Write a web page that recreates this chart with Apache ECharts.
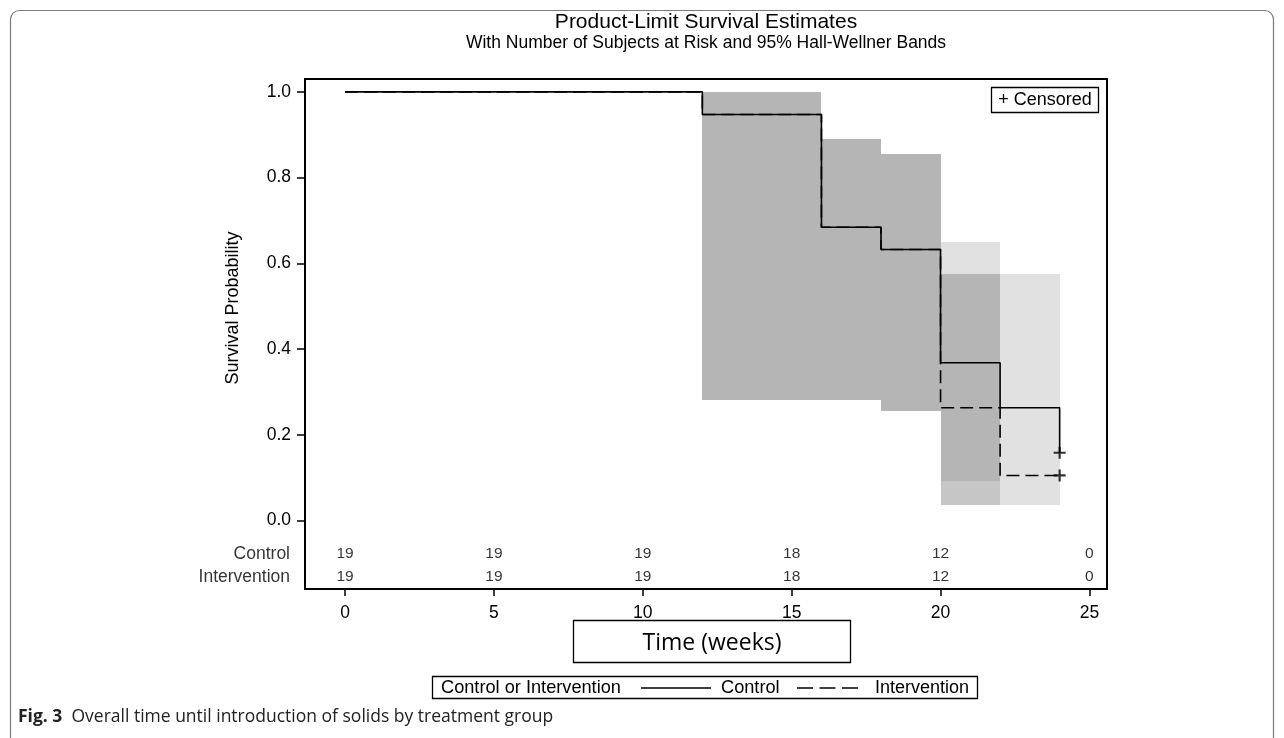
<!DOCTYPE html>
<html><head><meta charset="utf-8">
<script src="https://cdn.jsdelivr.net/npm/echarts@6/dist/echarts.min.js"></script>
<style>html,body{margin:0;padding:0;background:#fff}#c{width:1284px;height:738px}</style>
</head><body><div id="c"></div>
<script>
// ---- data ----
const timesControl = [0, 12, 16, 18, 20, 22, 24];
const survControl = [1, 0.947, 0.684, 0.632, 0.368, 0.263, 0.158];
const timesIntervention = [0, 12, 16, 18, 20, 22, 24];
const survIntervention = [1, 0.947, 0.684, 0.632, 0.263, 0.105, 0.105];
const censorControl = [[24, 0.158]];
const censorIntervention = [[24, 0.105]];
// [start, end, lower, upper]
const bandControl = [[12, 16, 0.28, 1.0], [16, 18, 0.28, 0.891], [18, 20, 0.256, 0.854], [20, 22, 0.093, 0.649], [22, 24, 0.035, 0.575]];
const bandIntervention = [[12, 16, 0.28, 1.0], [16, 18, 0.28, 0.891], [18, 20, 0.256, 0.854], [20, 22, 0.035, 0.575]];
const riskTimes = [0, 5, 10, 15, 20, 25];
const riskControl = [19, 19, 19, 18, 12, 0];
const riskIntervention = [19, 19, 19, 18, 12, 0];
const xTicks = [0, 5, 10, 15, 20, 25];
const yTicks = [0, 0.2, 0.4, 0.6, 0.8, 1.0];
const groupNames = ['Control', 'Intervention'];

// ---- layout constants ----
const X_MIN = -1.344, X_MAX = 25.59, Y_MIN = -0.16, Y_MAX = 1.03;
const ROW_Y = [-0.078, -0.132];
const FONT = '"Liberation Sans", Arial, sans-serif';
const CAP_FONT = '"Open Sans", "Noto Sans", sans-serif';

// band rects: 0 = control only, 1 = intervention only, 2 = overlap
const bandRects = [];
bandControl.forEach(b => bandRects.push([b[0], b[1], b[2], b[3], 0]));
bandIntervention.forEach(b => bandRects.push([b[0], b[1], b[2], b[3], 1]));
bandControl.forEach(b => {
  bandIntervention.forEach(c => {
    if (c[0] === b[0] && c[1] === b[1]) {
      const lo = Math.max(b[2], c[2]), hi = Math.min(b[3], c[3]);
      if (hi > lo) bandRects.push([b[0], b[1], lo, hi, 2]);
    }
  });
});
const bandColors = ['#e1e1e1', '#c6c6c6', '#b5b5b5'];

const plusPath = 'path://M0,4.1H10V5.9H0Z M4.1,0H5.9V10H4.1Z';

const chart = echarts.init(document.getElementById('c'), null, {renderer: 'canvas'});
const option = {
  animation: false,
  backgroundColor: '#fff',
  grid: {left: 305, right: 177, top: 79, bottom: 149, show: true, borderColor: '#000', borderWidth: 2, backgroundColor: 'transparent'},
  xAxis: {
    type: 'value', min: X_MIN, max: X_MAX,
    axisLine: {show: true, onZero: false, lineStyle: {color: '#000', width: 2}},
    axisTick: {show: true, length: 7, lineStyle: {color: '#000', width: 1.5}, customValues: xTicks},
    axisLabel: {customValues: xTicks, margin: 15, fontSize: 17.5, color: '#000', fontFamily: FONT},
    splitLine: {show: false}
  },
  yAxis: {
    type: 'value', min: Y_MIN, max: Y_MAX,
    axisLine: {show: true, onZero: false, lineStyle: {color: '#000', width: 2}},
    axisTick: {show: true, length: 8, lineStyle: {color: '#000', width: 1.5}, customValues: yTicks},
    axisLabel: {customValues: yTicks, margin: 14, fontSize: 17.5, color: '#000', fontFamily: FONT, formatter: v => v.toFixed(1)},
    splitLine: {show: false}
  },
  series: [
    {
      type: 'custom', name: 'bands', silent: true, z: 1,
      data: bandRects,
      renderItem: (params, api) => {
        const p0 = api.coord([api.value(0), api.value(3)]);
        const p1 = api.coord([api.value(1), api.value(2)]);
        const x0 = Math.round(p0[0]), x1 = Math.round(p1[0]);
        const y0 = Math.round(p0[1]), y1 = Math.round(p1[1]);
        return {type: 'rect', shape: {x: x0, y: y0, width: x1 - x0, height: y1 - y0},
          style: {fill: bandColors[api.value(4)]}};
      }
    },
    {
      type: 'line', name: groupNames[1], step: 'end', symbol: 'none', z: 3,
      data: timesIntervention.map((t, i) => [t, survIntervention[i]]),
      lineStyle: {color: '#000', width: 1.6, type: [13, 6]}
    },
    {
      type: 'line', name: groupNames[0], step: 'end', symbol: 'none', z: 4,
      data: timesControl.map((t, i) => [t, survControl[i]]),
      lineStyle: {color: '#000', width: 1.6, type: 'solid'}
    },
    {
      type: 'scatter', name: 'censored', z: 5, symbol: plusPath, symbolSize: 12,
      itemStyle: {color: '#000'},
      data: censorControl.concat(censorIntervention)
    },
    {
      type: 'scatter', name: 'riskC', z: 5, symbolSize: 0, clip: false, silent: true,
      data: riskTimes.map((t, i) => [t, ROW_Y[0], riskControl[i]]),
      label: {show: true, position: 'inside', formatter: p => String(p.data[2]), fontSize: 15.5, color: '#000', fontFamily: FONT}
    },
    {
      type: 'scatter', name: 'riskI', z: 5, symbolSize: 0, clip: false, silent: true,
      data: riskTimes.map((t, i) => [t, ROW_Y[1], riskIntervention[i]]),
      label: {show: true, position: 'inside', formatter: p => String(p.data[2]), fontSize: 15.5, color: '#000', fontFamily: FONT}
    },
    {
      type: 'scatter', name: 'rowLabels', z: 5, symbolSize: 0, clip: false, silent: true,
      data: groupNames.map((g, i) => ({value: [X_MIN, ROW_Y[i]], name: g})),
      label: {show: true, position: 'left', distance: 15, formatter: p => p.name, fontSize: 17.5, color: '#000', fontFamily: FONT}
    }
  ],
  graphic: [
    {type: 'rect', z: -10, shape: {x: 10.5, y: 10.5, width: 1263, height: 740, r: 9}, style: {fill: 'none', stroke: '#7a7a7a', lineWidth: 1.2}},
    {type: 'text', x: 706, y: 22, style: {text: 'Product-Limit Survival Estimates', fontSize: 21, fontFamily: FONT, fill: '#000', align: 'center', verticalAlign: 'middle'}},
    {type: 'text', x: 706, y: 43, style: {text: 'With Number of Subjects at Risk and 95% Hall-Wellner Bands', fontSize: 17.5, fontFamily: FONT, fill: '#000', align: 'center', verticalAlign: 'middle'}},
    {type: 'text', x: 233, y: 308, rotation: Math.PI / 2, style: {text: 'Survival Probability', fontSize: 18, fontFamily: FONT, fill: '#000', align: 'center', verticalAlign: 'middle'}},
    {type: 'rect', shape: {x: 991.5, y: 87.5, width: 107, height: 25}, style: {fill: '#fff', stroke: '#000', lineWidth: 1.3}, z: 10},
    {type: 'text', x: 1045, y: 100.5, z: 11, style: {text: '+ Censored', fontSize: 18, fontFamily: FONT, fill: '#000', align: 'center', verticalAlign: 'middle'}},
    {type: 'rect', shape: {x: 573.5, y: 620.5, width: 277, height: 42}, style: {fill: '#fff', stroke: '#000', lineWidth: 1.3}},
    {type: 'text', x: 712, y: 643, style: {text: 'Time (weeks)', fontSize: 23, fontFamily: CAP_FONT, fill: '#000', align: 'center', verticalAlign: 'middle'}},
    {type: 'rect', shape: {x: 432.5, y: 676.5, width: 545, height: 22}, style: {fill: '#fff', stroke: '#000', lineWidth: 1.3}},
    {type: 'text', x: 441, y: 688, style: {text: 'Control or Intervention', fontSize: 18.2, fontFamily: FONT, fill: '#000', align: 'left', verticalAlign: 'middle'}},
    {type: 'line', shape: {x1: 641, y1: 688, x2: 711, y2: 688}, style: {stroke: '#000', lineWidth: 1.5}},
    {type: 'text', x: 721, y: 688, style: {text: groupNames[0], fontSize: 18.2, fontFamily: FONT, fill: '#000', align: 'left', verticalAlign: 'middle'}},
    {type: 'line', shape: {x1: 797, y1: 688, x2: 858, y2: 688}, style: {stroke: '#000', lineWidth: 1.5, lineDash: [16, 6.5]}},
    {type: 'text', x: 875, y: 688, style: {text: groupNames[1], fontSize: 18, fontFamily: FONT, fill: '#000', align: 'left', verticalAlign: 'middle'}},
    {type: 'text', x: 18, y: 717, style: {text: '{b|Fig. 3}  Overall time until introduction of solids by treatment group', fontSize: 17.5, fontFamily: CAP_FONT, fill: '#222', align: 'left', verticalAlign: 'middle',
      rich: {b: {fontWeight: 'bold', fontSize: 17.5, fontFamily: CAP_FONT, fill: '#222'}}}}
  ]
};
chart.setOption(option);
</script>
</body></html>
